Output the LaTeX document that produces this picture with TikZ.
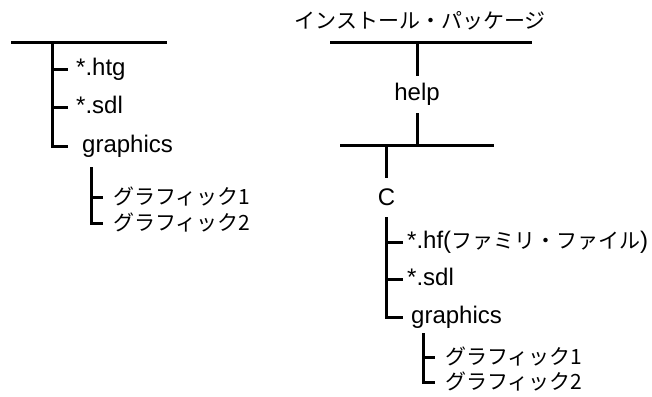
\documentclass[tikz,border=0pt]{standalone}
\usepackage{fontspec}
\setmainfont{Liberation Sans}
\newfontfamily\jp{Noto Sans CJK JP}
\newcommand{\jptext}[1]{{\jp\fontsize{21}{25}\selectfont #1}}
\begin{document}
\begin{tikzpicture}[x=1pt,y=-1pt,
  branch/.style={line width=3pt},
  lat/.style={font=\fontsize{24}{28}\selectfont},
  item/.style={lat, anchor=west, inner ysep=0pt, inner xsep=#1, text height=17pt, text depth=5pt},
  jpitem/.style={anchor=west, inner ysep=0pt, inner xsep=#1, font=\jp\fontsize{21}{25}\selectfont, text height=15pt, text depth=1pt},
  label/.style={lat, inner sep=0pt}
]
\useasboundingbox (0,0) rectangle (652,396);

% ---------- left tree ----------
\coordinate (LA) at (11,43);
\coordinate (LB) at (167,43);
\coordinate (LJ) at (52,43);
\node[item=8pt]  (lhtg) at (68,69)  {*.htg};
\node[item=8pt]  (lsdl) at (68,107) {*.sdl};
\node[item=14pt] (lgra) at (68,146) {graphics};
\draw[branch] (LA) -- (LB);
\draw[branch] (LJ) |- (lgra.west);
\draw[branch] (LJ |- lhtg.west) -- (lhtg.west);
\draw[branch] (LJ |- lsdl.west) -- (lsdl.west);

\coordinate (LS) at (91,167);
\node[jpitem=10pt] (lg1) at (103,197) {グラフィック1};
\node[jpitem=10pt] (lg2) at (103,223) {グラフィック2};
\draw[branch] (LS) |- (lg2.west);
\draw[branch] (LS |- lg1.west) -- (lg1.west);

% ---------- right tree ----------
\node[font=\jp\fontsize{21}{25}\selectfont, inner sep=0pt] (title) at (420,21) {インストール・パッケージ};
\coordinate (RA) at (330,43);
\coordinate (RB) at (532,43);
\coordinate (RJ) at (417,43);
\node[label, minimum height=37pt] (help) at (417,94.5) {help};
\draw[branch] (RA) -- (RB);
\draw[branch] (RJ) -- (help.north);

\coordinate (RC) at (340,145);
\coordinate (RD) at (494,145);
\draw[branch] (help.south) -- (help.south |- RC);
\draw[branch] (RC) -- (RD);

\node[label, minimum height=39pt] (C) at (386.5,197.5) {C};
\draw[branch] (C.north |- RC) -- (C.north);

\node[item=4pt] (rhf)  at (403,242) {*.hf(\jptext{ファミリ・ファイル})};
\node[item=4pt] (rsdl) at (403,279) {*.sdl};
\node[item=8pt] (rgra) at (403,317) {graphics};
\draw[branch] (C.south) |- (rgra.west);
\draw[branch] (C.south |- rhf.west) -- (rhf.west);
\draw[branch] (C.south |- rsdl.west) -- (rsdl.west);

\coordinate (RS) at (423,333);
\node[jpitem=10pt] (rg1) at (435,357) {グラフィック1};
\node[jpitem=10pt] (rg2) at (435,382) {グラフィック2};
\draw[branch] (RS) |- (rg2.west);
\draw[branch] (RS |- rg1.west) -- (rg1.west);
\end{tikzpicture}
\end{document}
